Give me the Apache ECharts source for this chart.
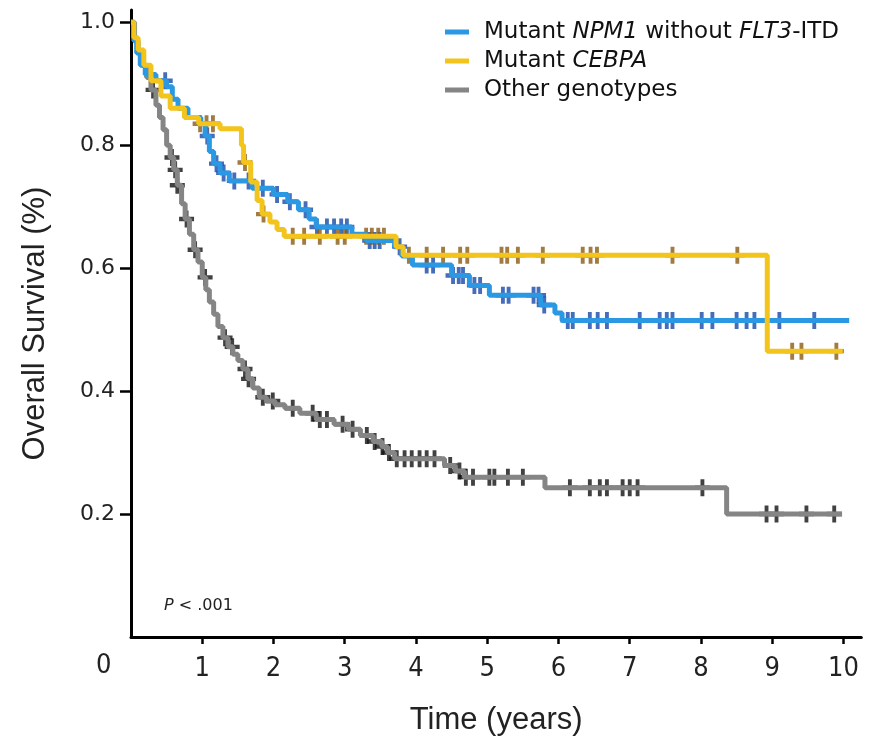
<!DOCTYPE html>
<html><head><meta charset="utf-8">
<script src="https://cdn.jsdelivr.net/npm/echarts@6/dist/echarts.min.js"></script>
<style>html,body{margin:0;padding:0;background:#fff}#c{width:873px;height:742px}</style>
</head><body><div id="c"></div>
<script>
// ---- data (time in years, survival proportion) ----
var seriesNames = ['Mutant NPM1 without FLT3-ITD', 'Mutant CEBPA', 'Other genotypes'];
var xTickValues = [1,2,3,4,5,6,7,8,9,10];
var yTickValues = [0.2,0.4,0.6,0.8,1.0];

var npm1Curve = [[0,1.0],[0.04,0.97],[0.08,0.95],[0.13,0.93],[0.2,0.915],[0.35,0.905],[0.5,0.895],[0.58,0.875],[0.66,0.86],[0.8,0.845],[0.98,0.835],[1.04,0.815],[1.1,0.79],[1.16,0.77],[1.25,0.755],[1.38,0.742],[1.7,0.73],[2.0,0.72],[2.2,0.708],[2.35,0.695],[2.5,0.68],[2.6,0.667],[3.1,0.655],[3.3,0.645],[3.7,0.635],[3.8,0.62],[3.95,0.605],[4.5,0.588],[4.75,0.572],[5.03,0.556],[5.75,0.54],[5.95,0.527],[6.05,0.515],[10.08,0.515]];
var npm1Censor = [0.48,1.07,1.2,1.3,1.45,1.65,1.85,2.05,2.23,2.45,2.61,2.75,2.85,2.95,3.03,3.35,3.42,3.49,3.77,4.15,4.24,4.52,4.6,4.66,4.82,4.9,5.22,5.3,5.65,5.72,5.8,6.13,6.2,6.44,6.55,6.68,7.14,7.42,7.52,7.6,8.01,8.16,8.5,8.64,8.75,9.1,9.59];

var cebpaCurve = [[0,1.0],[0.04,0.975],[0.1,0.955],[0.18,0.93],[0.28,0.905],[0.42,0.88],[0.55,0.86],[0.75,0.845],[0.95,0.835],[1.25,0.827],[1.55,0.8],[1.58,0.772],[1.68,0.74],[1.77,0.71],[1.84,0.688],[1.95,0.675],[2.05,0.663],[2.15,0.652],[3.72,0.635],[3.82,0.621],[8.93,0.465],[9.99,0.465]];
var cebpaCensor = [0.97,1.06,1.15,1.6,1.86,2.27,2.43,2.65,2.9,3.0,3.3,3.38,3.47,3.55,3.9,4.15,4.38,4.62,4.72,5.2,5.28,5.43,5.78,6.34,6.45,6.54,7.6,8.51,9.28,9.41,9.9];

var otherCurve = [[0,1.0],[0.05,0.97],[0.1,0.95],[0.16,0.93],[0.22,0.91],[0.28,0.89],[0.35,0.865],[0.4,0.845],[0.45,0.825],[0.5,0.8],[0.55,0.78],[0.6,0.76],[0.65,0.735],[0.71,0.705],[0.76,0.68],[0.82,0.655],[0.88,0.63],[0.94,0.61],[1.0,0.585],[1.05,0.565],[1.1,0.545],[1.16,0.525],[1.22,0.505],[1.29,0.487],[1.36,0.472],[1.43,0.46],[1.5,0.45],[1.57,0.436],[1.64,0.42],[1.71,0.405],[1.8,0.39],[1.9,0.384],[2.02,0.378],[2.16,0.372],[2.37,0.364],[2.6,0.354],[2.85,0.346],[3.05,0.338],[3.22,0.328],[3.4,0.318],[3.52,0.31],[3.6,0.3],[3.7,0.29],[4.4,0.279],[4.55,0.27],[4.68,0.26],[5.81,0.243],[8.36,0.2],[9.98,0.2]];
var otherCensor = [0.31,0.575,0.62,0.65,0.78,0.9,1.04,1.32,1.42,1.6,1.65,1.85,1.99,2.27,2.55,2.65,2.75,2.97,3.11,3.31,3.42,3.53,3.62,3.73,3.84,3.94,4.05,4.15,4.26,4.48,4.61,4.7,4.8,5.03,5.1,5.29,5.5,6.16,6.44,6.58,6.68,6.9,7.0,7.11,8.02,8.92,9.06,9.48,9.87];

// ---- helpers ----
function survivalAt(curve, t) {
  var s = curve[0][1];
  for (var i = 0; i < curve.length; i++) { if (curve[i][0] <= t) s = curve[i][1]; }
  return s;
}
function censorPoints(curve, times) { return times.map(function (t) { return [t, survivalAt(curve, t)]; }); }

var PLUS = 'path://M-1.8,-7 L1.8,-7 L1.8,-1.8 L7,-1.8 L7,1.8 L1.8,1.8 L1.8,7 L-1.8,7 L-1.8,1.8 L-7,1.8 L-7,-1.8 L-1.8,-1.8 Z';
var WIDE = "'DejaVu Sans', sans-serif";
var ARIAL = "'Liberation Sans', Arial, sans-serif";
var NARROW = "'Liberation Sans Narrow', 'DejaVu Sans Condensed', 'Liberation Sans', sans-serif";

var lineColors = ['#2a98e2', '#f2c41c', '#858585'];
var markColors = ['#1848a8', '#8a5a12', '#111111'];

function lineSeries(name, data, color) {
  return { name: name, type: 'line', step: 'end', data: data, showSymbol: false, symbol: 'none',
    lineStyle: { color: color, width: 5 }, itemStyle: { color: color }, animation: false, silent: true };
}
function markSeries(name, data, color) {
  return { name: name + ' censored', type: 'scatter', data: data, symbol: PLUS, symbolSize: [15, 17],
    itemStyle: { color: color }, animation: false, silent: true };
}

var chart = echarts.init(document.getElementById('c'), null, { renderer: 'canvas' });
chart.setOption({
  backgroundColor: '#fff',
  animation: false,
  grid: { left: 131, top: 10, right: 11.7, bottom: 105, containLabel: false },
  legend: {
    data: seriesNames, orient: 'vertical', left: 440, top: 15, itemGap: 5,
    icon: 'rect', itemWidth: 24, itemHeight: 5,
    formatter: function (n) {
      if (n === seriesNames[0]) return '{n|Mutant }{i|NPM1}{n| without }{i|FLT3}{n|-ITD}';
      if (n === seriesNames[1]) return '{n|Mutant }{i|CEBPA}';
      return '{n|' + n + '}';
    },
    textStyle: { color: '#111', fontFamily: WIDE, fontSize: 23, lineHeight: 24, padding: [0, 0, 0, 10],
      rich: { n: { fontFamily: WIDE, fontSize: 23, color: '#111' }, i: { fontFamily: WIDE, fontSize: 23, fontStyle: 'italic', color: '#111' } } }
  },
  xAxis: {
    type: 'value', min: 0, max: 10.25, interval: 1,
    name: 'Time (years)', nameLocation: 'middle', nameGap: 68,
    nameTextStyle: { fontFamily: ARIAL, fontSize: 31, color: '#222' },
    axisLine: { show: true, lineStyle: { color: '#000', width: 3 } },
    axisTick: { show: true, customValues: xTickValues, length: 7, inside: false, lineStyle: { color: '#000', width: 2.5 } },
    axisLabel: { customValues: xTickValues, margin: 18, fontFamily: NARROW, fontSize: 27, color: '#222' },
    splitLine: { show: false }
  },
  yAxis: {
    type: 'value', min: 0, max: 1.02, interval: 0.2,
    name: 'Overall Survival (%)', nameLocation: 'middle', nameGap: 80, nameRotate: 90,
    nameTextStyle: { fontFamily: ARIAL, fontSize: 31, color: '#222' },
    axisLine: { show: true, lineStyle: { color: '#000', width: 3 } },
    axisTick: { show: true, customValues: yTickValues, length: 11, lineStyle: { color: '#000', width: 2.5 } },
    axisLabel: { customValues: yTickValues, margin: 16, fontFamily: WIDE, fontSize: 22, color: '#222',
      formatter: function (v) { return v.toFixed(1); } },
    splitLine: { show: false }
  },
  graphic: [
    { type: 'text', left: 96, top: 652, style: { text: '0', font: '27px ' + NARROW, fill: '#222' } },
    { type: 'text', left: 164, top: 598, style: { text: '{i|P}{n| < .001}',
      rich: { i: { fontFamily: WIDE, fontSize: 16, fontStyle: 'italic', fill: '#222' }, n: { fontFamily: WIDE, fontSize: 16, fill: '#222' } } } }
  ],
  series: [
    lineSeries(seriesNames[2], otherCurve, lineColors[2]),
    lineSeries(seriesNames[0], npm1Curve, lineColors[0]),
    lineSeries(seriesNames[1], cebpaCurve, lineColors[1]),
    markSeries(seriesNames[2], censorPoints(otherCurve, otherCensor), markColors[2]),
    markSeries(seriesNames[0], censorPoints(npm1Curve, npm1Censor), markColors[0]),
    markSeries(seriesNames[1], censorPoints(cebpaCurve, cebpaCensor), markColors[1])
  ]
});
</script></body></html>
